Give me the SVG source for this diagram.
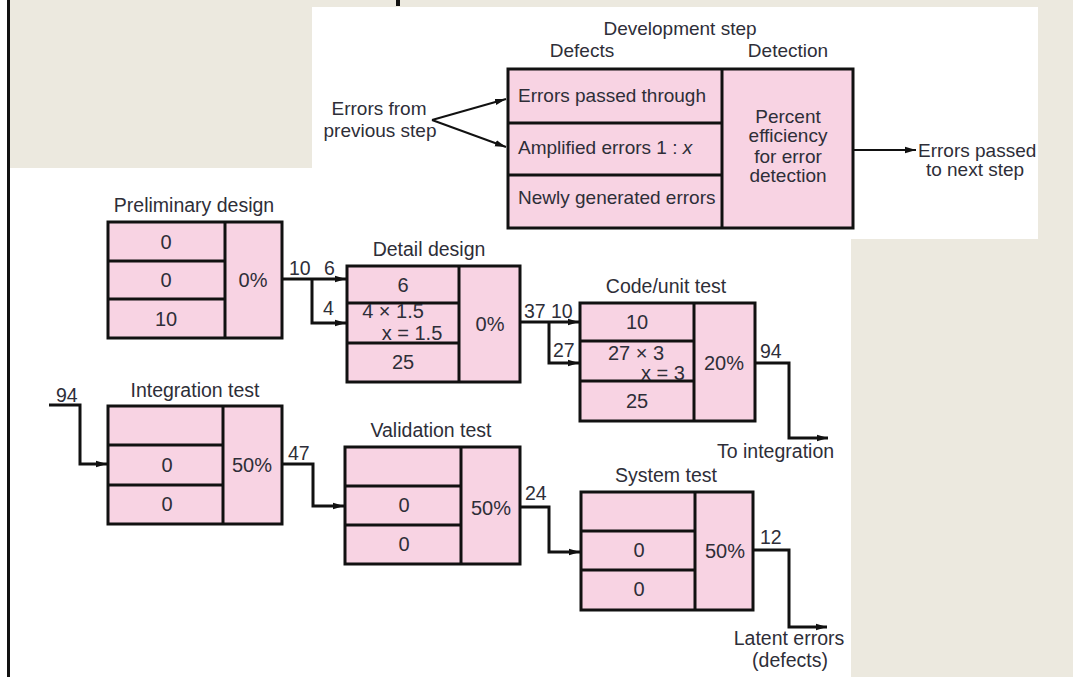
<svg xmlns="http://www.w3.org/2000/svg" width="1073" height="677" viewBox="0 0 1073 677">
<style>
  .bg { fill: #ece9df; }
  .box { fill: #f8d3e3; stroke: #111; stroke-width: 3; }
  .div { stroke: #111; stroke-width: 3; fill: none; }
  .conn { stroke: #111; stroke-width: 3; fill: none; }
  .thin { stroke: #111; stroke-width: 2; fill: none; }
  text { font-family: "Liberation Sans", Arial, sans-serif; fill: #2e2e38; }
  .t { font-size: 19px; }
  .ttl { font-size: 19.5px; text-anchor: middle; }
  .num { font-size: 20px; text-anchor: middle; }
  .lbl { font-size: 19.5px; }
  .m { text-anchor: middle; }
</style>
<defs>
  <marker id="ah" markerUnits="userSpaceOnUse" markerWidth="12" markerHeight="8" refX="11" refY="4" orient="auto">
    <path d="M0,0.8 L11,4 L0,7.2 Z" fill="#111"/>
  </marker>
</defs>

<!-- background -->
<rect x="0" y="0" width="1073" height="677" fill="#ffffff"/>
<rect class="bg" x="10" y="0" width="1063" height="7"/>
<rect class="bg" x="10" y="0" width="302" height="168"/>
<rect class="bg" x="1038" y="0" width="35" height="239"/>
<rect class="bg" x="851" y="239" width="222" height="438"/>
<rect x="7" y="0" width="3" height="677" fill="#111"/>
<rect x="396" y="0" width="4" height="6" fill="#111"/>

<!-- legend -->
<g id="legend">
  <text class="t m" x="680" y="35">Development step</text>
  <text class="t m" x="582" y="57">Defects</text>
  <text class="t m" x="788" y="57">Detection</text>
  <rect class="box" x="508" y="69" width="345" height="159"/>
  <line class="div" x1="722" y1="69" x2="722" y2="228"/>
  <line class="div" x1="508" y1="123" x2="722" y2="123"/>
  <line class="div" x1="508" y1="175" x2="722" y2="175"/>
  <text class="t" x="518" y="102">Errors passed through</text>
  <text class="t" x="518" y="154">Amplified errors 1 : <tspan font-style="italic">x</tspan></text>
  <text class="t" x="518" y="204">Newly generated errors</text>
  <text class="t m" x="788" y="123">Percent</text>
  <text class="t m" x="788" y="142">efficiency</text>
  <text class="t m" x="788" y="163">for error</text>
  <text class="t m" x="788" y="182">detection</text>
  <text class="t m" x="379" y="115">Errors from</text>
  <text class="t m" x="380" y="137">previous step</text>
  <text class="t" x="918" y="157">Errors passed</text>
  <text class="t m" x="975" y="176">to next step</text>
</g>

<!-- nodes -->
<g id="preliminary-design">
  <text class="ttl" x="194" y="212">Preliminary design</text>
  <rect class="box" x="108" y="222" width="174" height="116"/>
  <line class="div" x1="225" y1="222" x2="225" y2="338"/>
  <line class="div" x1="108" y1="261" x2="225" y2="261"/>
  <line class="div" x1="108" y1="299" x2="225" y2="299"/>
  <text class="num" x="166" y="249">0</text>
  <text class="num" x="166" y="287">0</text>
  <text class="num" x="166" y="326">10</text>
  <text class="num" x="253" y="287">0%</text>
</g>

<g id="detail-design">
  <text class="ttl" x="429" y="256">Detail design</text>
  <rect class="box" x="347" y="266" width="173" height="116"/>
  <line class="div" x1="459" y1="266" x2="459" y2="382"/>
  <line class="div" x1="347" y1="303" x2="459" y2="303"/>
  <line class="div" x1="347" y1="343" x2="459" y2="343"/>
  <text class="num" x="403" y="292">6</text>
  <text class="num" x="393" y="318">4 × 1.5</text>
  <text class="num" x="412" y="340">x = 1.5</text>
  <text class="num" x="403" y="369">25</text>
  <text class="num" x="490" y="331">0%</text>
</g>

<g id="code-unit-test">
  <text class="ttl" x="666" y="293">Code/unit test</text>
  <rect class="box" x="580" y="303" width="175" height="118"/>
  <line class="div" x1="694" y1="303" x2="694" y2="421"/>
  <line class="div" x1="580" y1="341" x2="694" y2="341"/>
  <line class="div" x1="580" y1="381" x2="694" y2="381"/>
  <text class="num" x="637" y="329">10</text>
  <text class="num" x="636" y="360">27 × 3</text>
  <text class="num" x="663" y="380">x = 3</text>
  <text class="num" x="637" y="408">25</text>
  <text class="num" x="724" y="370">20%</text>
</g>

<g id="integration-test">
  <text class="ttl" x="195" y="397">Integration test</text>
  <rect class="box" x="108" y="406" width="174" height="118"/>
  <line class="div" x1="223" y1="406" x2="223" y2="524"/>
  <line class="div" x1="108" y1="445" x2="223" y2="445"/>
  <line class="div" x1="108" y1="485" x2="223" y2="485"/>
  <text class="num" x="167" y="472">0</text>
  <text class="num" x="167" y="511">0</text>
  <text class="num" x="252" y="472">50%</text>
</g>

<g id="validation-test">
  <text class="ttl" x="431" y="437">Validation test</text>
  <rect class="box" x="345" y="447" width="175" height="117"/>
  <line class="div" x1="461" y1="447" x2="461" y2="564"/>
  <line class="div" x1="345" y1="486" x2="461" y2="486"/>
  <line class="div" x1="345" y1="525" x2="461" y2="525"/>
  <text class="num" x="404" y="512">0</text>
  <text class="num" x="404" y="551">0</text>
  <text class="num" x="491" y="515">50%</text>
</g>

<g id="system-test">
  <text class="ttl" x="666" y="482">System test</text>
  <rect class="box" x="581" y="492" width="172" height="118"/>
  <line class="div" x1="695" y1="492" x2="695" y2="610"/>
  <line class="div" x1="581" y1="531" x2="695" y2="531"/>
  <line class="div" x1="581" y1="570" x2="695" y2="570"/>
  <text class="num" x="639" y="557">0</text>
  <text class="num" x="639" y="596">0</text>
  <text class="num" x="725" y="558">50%</text>
</g>

<!-- connectors -->
<g id="connectors">
  <path class="thin" d="M432,120 L506,99" marker-end="url(#ah)"/>
  <path class="thin" d="M432,120 L506,147" marker-end="url(#ah)"/>
  <path class="thin" d="M853,150 H916" marker-end="url(#ah)"/>

  <path class="conn" d="M282,279 H346" marker-end="url(#ah)"/>
  <path class="conn" d="M312,279 V323 H346" marker-end="url(#ah)"/>
  <text class="lbl" x="289" y="275">10</text>
  <text class="lbl" x="324" y="275">6</text>
  <text class="lbl" x="323" y="315">4</text>

  <path class="conn" d="M520,322 H579" marker-end="url(#ah)"/>
  <path class="conn" d="M549,322 V363 H579" marker-end="url(#ah)"/>
  <text class="lbl" x="524" y="318">37</text>
  <text class="lbl" x="551" y="318">10</text>
  <text class="lbl" x="553" y="357">27</text>

  <path class="conn" d="M755,363 H789 V438 H828" marker-end="url(#ah)"/>
  <text class="lbl" x="760" y="358">94</text>
  <text class="lbl" x="717" y="458">To integration</text>

  <path class="conn" d="M49,405 H80 V464 H107" marker-end="url(#ah)"/>
  <text class="lbl" x="56" y="402">94</text>

  <path class="conn" d="M282,464 H313 V506 H344" marker-end="url(#ah)"/>
  <text class="lbl" x="288" y="460">47</text>

  <path class="conn" d="M520,507 H549 V552 H580" marker-end="url(#ah)"/>
  <text class="lbl" x="525" y="500">24</text>

  <path class="conn" d="M753,550 H789 V627 H827" marker-end="url(#ah)"/>
  <text class="lbl" x="760" y="544">12</text>
  <text class="lbl m" x="789" y="645">Latent errors</text>
  <text class="lbl m" x="790" y="667">(defects)</text>
</g>
</svg>
